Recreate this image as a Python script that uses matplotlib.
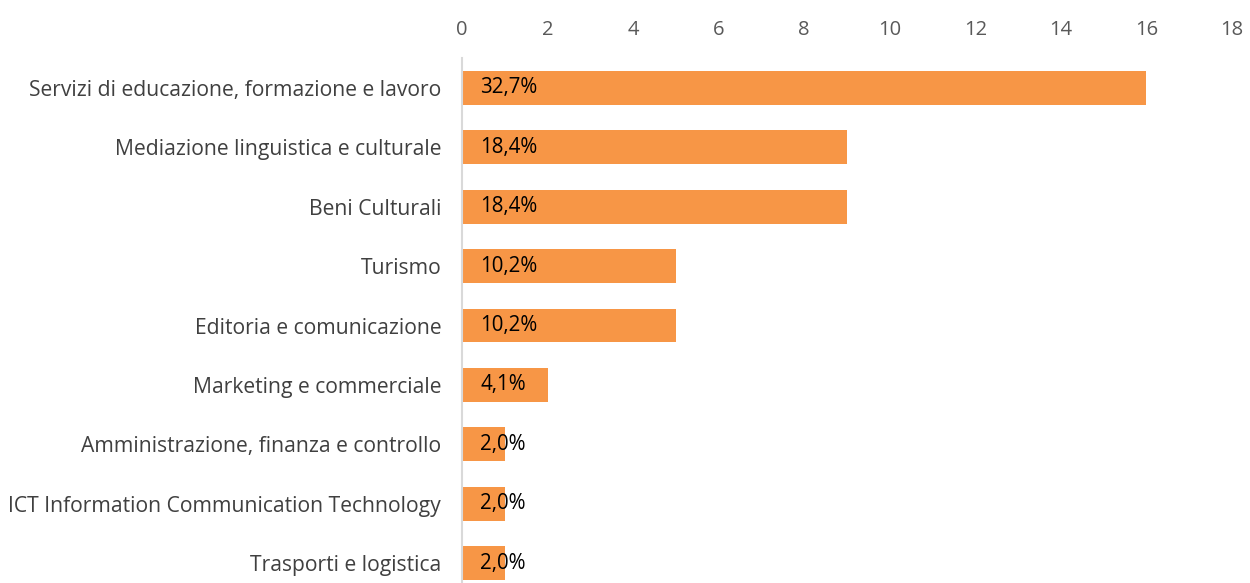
import matplotlib.pyplot as plt

categories = [
    "Servizi di educazione, formazione e lavoro",
    "Mediazione linguistica e culturale",
    "Beni Culturali",
    "Turismo",
    "Editoria e comunicazione",
    "Marketing e commerciale",
    "Amministrazione, finanza e controllo",
    "ICT Information Communication Technology",
    "Trasporti e logistica",
]
counts = [16, 9, 9, 5, 5, 2, 1, 1, 1]
pct_labels = ["32,7%", "18,4%", "18,4%", "10,2%", "10,2%", "4,1%", "2,0%", "2,0%", "2,0%"]
xticks = [0, 2, 4, 6, 8, 10, 12, 14, 16, 18]

plt.rcParams["font.family"] = ["Open Sans", "DejaVu Sans"]

fig = plt.figure(figsize=(12.5, 5.83), dpi=100)
ax = fig.add_axes([0.3696, -0.0167, 0.616, 0.9167])

pos = list(range(len(categories)))
ax.barh(pos, counts, height=0.57, color="#F79646")
ax.set_ylim(len(categories) - 0.5, -0.5)
ax.set_xlim(0, 18)

# percent labels sit just inside the bar base
for p, lab in zip(pos, pct_labels):
    ax.annotate(lab, xy=(0, p), xytext=(13, 0), textcoords="offset points",
                ha="left", va="center", fontsize=14.8, color="black")

ax.xaxis.tick_top()
ax.set_xticks(xticks)
ax.set_xticklabels([str(t) for t in xticks], fontsize=14.5, color="#595959")
ax.set_yticks(pos)
ax.set_yticklabels(categories, fontsize=15.2, color="#404040")
ax.tick_params(axis="x", length=0, pad=13)
ax.tick_params(axis="y", length=0, pad=15)

for s in ["top", "right", "bottom"]:
    ax.spines[s].set_visible(False)
ax.spines["left"].set_color("#D9D9D9")
ax.spines["left"].set_linewidth(1.5)

fig.savefig("out.png", dpi=100)
